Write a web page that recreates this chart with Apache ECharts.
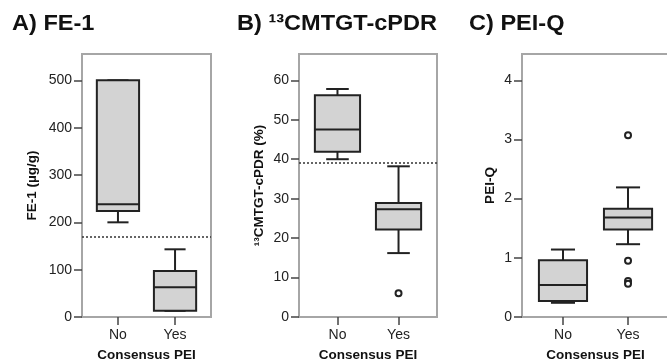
<!DOCTYPE html>
<html>
<head>
<meta charset="utf-8">
<style>html,body{margin:0;padding:0;background:#fff;}#c{width:667px;height:361px;}</style>
<script src="https://cdn.jsdelivr.net/npm/echarts@6/dist/echarts.min.js"></script>
</head>
<body>
<div id="c"></div>
<script>
// ---- data ----
const categories = ['No', 'Yes'];
// box stats: [lowWhisker, Q1, median, Q3, highWhisker]
const feBoxes = [[200, 224, 238, 500, 500], [13, 13, 63, 97, 143]];
const cpdrBoxes = [[40.0, 41.9, 47.5, 56.2, 57.8], [16.2, 22.2, 27.3, 28.9, 38.2]];
const peiqBoxes = [[0.24, 0.27, 0.54, 0.96, 1.14], [1.23, 1.48, 1.68, 1.83, 2.19]];
// outliers: [categoryIndex, value]
const feOutliers = [];
const cpdrOutliers = [[1, 6.0]];
const peiqOutliers = [[1, 3.07], [1, 0.95], [1, 0.61], [1, 0.56]];
const feCutoff = 170;
const cpdrCutoff = 39;
const feTicks = [0, 100, 200, 300, 400, 500];
const cpdrTicks = [0, 10, 20, 30, 40, 50, 60];
const peiqTicks = [0, 1, 2, 3, 4];
const feMax = 555.6, cpdrMax = 66.67, peiqMax = 4.444;
const titles = ['A) FE-1', 'B) \u00B9\u00B3CMTGT-cPDR', 'C) PEI-Q'];
const yNames = ['FE-1 (\u00B5g/g)', '\u00B9\u00B3CMTGT-cPDR (%)', 'PEI-Q'];
const xName = 'Consensus PEI';

// ---- layout ----
const panels = [
  {left: 82, right: 456, nameGap: 43, boxes: feBoxes, outliers: feOutliers, cutoff: feCutoff, ticks: feTicks, max: feMax, tx: 12},
  {left: 299, right: 230, nameGap: 33, boxes: cpdrBoxes, outliers: cpdrOutliers, cutoff: cpdrCutoff, ticks: cpdrTicks, max: cpdrMax, tx: 237},
  {left: 522, right: -2, nameGap: 25, boxes: peiqBoxes, outliers: peiqOutliers, cutoff: null, ticks: peiqTicks, max: peiqMax, tx: 469}
];

const FONT = '"Liberation Sans", Arial, sans-serif';
const grid = [], xAxis = [], yAxis = [], series = [], graphic = [];

function renderBox(params, api) {
  const x = api.value(0);
  const lo = api.coord([x, api.value(1)]);
  const q1 = api.coord([x, api.value(2)]);
  const md = api.coord([x, api.value(3)]);
  const q3 = api.coord([x, api.value(4)]);
  const hi = api.coord([x, api.value(5)]);
  const w = api.size([1, 0])[0] * 0.74;
  const cw = w / 2;
  const cx = lo[0];
  const st = {stroke: '#222', lineWidth: 2, fill: null};
  return {
    type: 'group',
    children: [
      {type: 'line', shape: {x1: cx, y1: lo[1], x2: cx, y2: q1[1]}, style: st},
      {type: 'line', shape: {x1: cx, y1: q3[1], x2: cx, y2: hi[1]}, style: st},
      {type: 'line', shape: {x1: cx - cw / 2, y1: lo[1], x2: cx + cw / 2, y2: lo[1]}, style: st},
      {type: 'line', shape: {x1: cx - cw / 2, y1: hi[1], x2: cx + cw / 2, y2: hi[1]}, style: st},
      {type: 'rect', shape: {x: cx - w / 2, y: q3[1], width: w, height: q1[1] - q3[1]},
        style: {stroke: '#222', lineWidth: 2, fill: '#d3d3d3'}},
      {type: 'line', shape: {x1: cx - w / 2, y1: md[1], x2: cx + w / 2, y2: md[1]}, style: st}
    ]
  };
}

panels.forEach((p, i) => {
  grid.push({left: p.left, right: p.right, top: 54, bottom: 44, show: true,
    outerBoundsMode: 'none', containLabel: false,
    borderColor: '#a6a6a6', borderWidth: 2, backgroundColor: 'transparent'});
  xAxis.push({
    type: 'value', gridIndex: i, min: -0.63, max: 1.63, position: 'bottom',
    axisLine: {show: false, onZero: false}, splitLine: {show: false},
    axisTick: {show: true, length: 8, customValues: [0, 1], lineStyle: {color: '#444', width: 1.5}},
    axisLabel: {customValues: [0, 1], formatter: v => categories[Math.round(v)] || '',
      color: '#222', fontSize: 14, fontFamily: FONT, margin: 11},
    name: xName, nameLocation: 'middle', nameGap: 31,
    nameTextStyle: {fontWeight: 'bold', fontSize: 13.5, color: '#111', fontFamily: FONT}
  });
  yAxis.push({
    type: 'value', gridIndex: i, min: 0, max: p.max, position: 'left',
    axisLine: {show: false, onZero: false}, splitLine: {show: false},
    axisTick: {show: true, length: 8, customValues: p.ticks, lineStyle: {color: '#444', width: 1.5}},
    axisLabel: {customValues: p.ticks, color: '#222', fontSize: 14, fontFamily: FONT, margin: 10},
    name: yNames[i], nameLocation: 'middle', nameGap: p.nameGap,
    nameTextStyle: {fontWeight: 'bold', fontSize: 13.5, color: '#111', fontFamily: FONT}
  });
  const boxData = p.boxes.map((b, k) => [k].concat(b));
  const s = {
    type: 'custom', xAxisIndex: i, yAxisIndex: i, renderItem: renderBox,
    data: boxData, encode: {x: 0, y: [1, 2, 3, 4, 5]}, silent: true, z: 3
  };
  if (p.cutoff !== null) {
    s.markLine = {silent: true, symbol: ['none', 'none'], label: {show: false},
      lineStyle: {type: [2, 2], color: '#333', width: 1.5},
      data: [{yAxis: p.cutoff}]};
  }
  series.push(s);
  if (p.outliers.length) {
    series.push({type: 'scatter', xAxisIndex: i, yAxisIndex: i, data: p.outliers,
      symbol: 'circle', symbolSize: 6, silent: true, z: 4,
      itemStyle: {color: '#fff', borderColor: '#222', borderWidth: 2, opacity: 1}});
  }
  graphic.push({type: 'text', x: p.tx, y: 24, scaleX: 1.07,
    style: {text: titles[i], font: 'bold 22px ' + FONT, fill: '#111', textVerticalAlign: 'middle'}});
});

const chart = echarts.init(document.getElementById('c'), null, {renderer: 'canvas'});
chart.setOption({backgroundColor: '#fff', animation: false, grid, xAxis, yAxis, series, graphic});
</script>
</body>
</html>
